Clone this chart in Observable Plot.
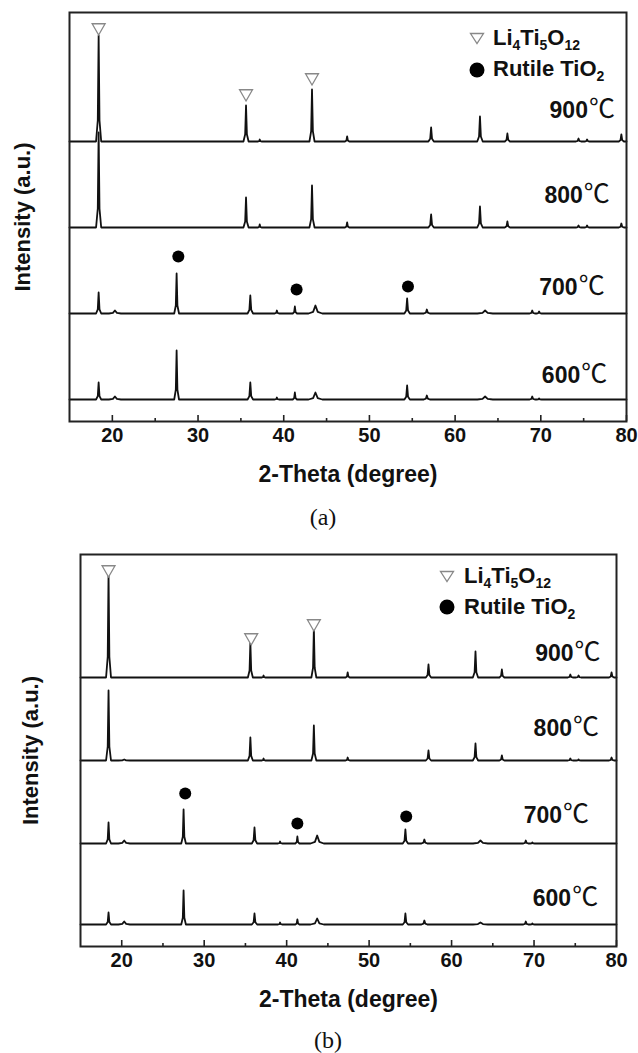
<!DOCTYPE html>
<html><head><meta charset="utf-8">
<script src="https://cdn.jsdelivr.net/npm/d3@7"></script>
<script src="https://cdn.jsdelivr.net/npm/@observablehq/plot@0.6"></script>
<style>
body{margin:0;background:#fff;width:638px;height:1053px;position:relative;overflow:hidden;font-family:"Liberation Sans",Arial,sans-serif;}
.panel{position:absolute;left:0;}
.leg{position:absolute;font-weight:bold;font-size:22px;line-height:22px;color:#111;white-space:nowrap;}
.leg sub{font-size:14px;vertical-align:-5px;line-height:0;}
.sym{position:absolute;}
.cap{position:absolute;width:60px;text-align:center;font-family:"Liberation Serif","Times New Roman",serif;font-size:24px;line-height:24px;color:#111;}
</style></head><body>
<div id="pa" class="panel" style="top:0"></div>
<div id="pb" class="panel" style="top:540px"></div>

<svg class="sym" style="left:469px;top:32px" width="16" height="14"><path d="M1.5,1.5 L14.5,1.5 L8,11.5 Z" fill="#fff" stroke="#888" stroke-width="1.3"/></svg>
<div class="leg" style="left:493px;top:27px">Li<sub>4</sub>Ti<sub>5</sub>O<sub>12</sub></div>
<svg class="sym" style="left:469px;top:62px" width="16" height="16"><circle cx="8" cy="8" r="7.5" fill="#000"/></svg>
<div class="leg" style="left:493px;top:58px">Rutile TiO<sub>2</sub></div>

<svg class="sym" style="left:439px;top:570px" width="16" height="14"><path d="M1.5,1.5 L14.5,1.5 L8,11.5 Z" fill="#fff" stroke="#888" stroke-width="1.3"/></svg>
<div class="leg" style="left:464px;top:565px">Li<sub>4</sub>Ti<sub>5</sub>O<sub>12</sub></div>
<svg class="sym" style="left:439px;top:599px" width="16" height="16"><circle cx="8" cy="8" r="7.5" fill="#000"/></svg>
<div class="leg" style="left:464px;top:596px">Rutile TiO<sub>2</sub></div>

<div class="cap" style="left:293px;top:505px">(a)</div>
<div class="cap" style="left:298px;top:1028px">(b)</div>

<script>
// ---- shared data ----
const xDomain = [15, 80];
const majorTicks = [20, 30, 40, 50, 60, 70, 80];
const minorTicks = [25, 35, 45, 55, 65, 75];
const temps = ["600", "700", "800", "900"];
const peakAngles     = [18.4, 20.3, 27.5, 35.6, 36.1, 37.2, 39.2, 41.3, 43.3, 43.7, 47.4, 54.4, 56.7, 57.2, 62.9, 63.5, 66.1, 69.0, 69.8, 74.4, 75.4, 79.4];
const peakHalfWidths = [0.3, 0.7, 0.28, 0.3, 0.32, 0.2, 0.25, 0.25, 0.3, 0.8, 0.25, 0.32, 0.35, 0.32, 0.32, 0.9, 0.3, 0.3, 0.3, 0.3, 0.3, 0.3];

// ---- panel (a) ----
const offsetsA = [22, 108, 194, 280];
const heightsA600 = [17, 3, 49, 0, 17, 0, 2, 7, 0, 7, 0, 14, 4, 0, 0, 3, 0, 3, 1, 0, 0, 0];
const heightsA700 = [21, 3, 40, 0, 18, 0, 3, 7, 0, 8, 0, 15, 4, 0, 0, 3, 0, 3, 2, 0, 0, 0];
const heightsA800 = [95, 0, 0, 30, 0, 3, 0, 0, 42, 0, 5, 0, 0, 13, 21, 0, 6, 0, 0, 2, 2, 4];
const heightsA900 = [106, 0, 0, 36, 0, 2, 0, 0, 52, 0, 5, 0, 0, 14, 25, 0, 8, 0, 0, 3, 2, 7];
const triAnglesA = [18.4, 35.6, 43.3];
const triLevelsA = [394, 328, 344];
const dotAnglesA = [27.7, 41.5, 54.5];
const dotLevelsA = [165, 132, 135];
const labelAnglesA = [74.6, 74.3, 74.9, 75.5];
const labelLevelsA = [46, 134, 226, 311];

// ---- panel (b) ----
const offsetsB = [22, 103, 186, 269];
const heightsB600 = [12, 3, 34, 0, 11, 0, 2, 5, 0, 6, 0, 11, 4, 0, 0, 2, 0, 3, 1, 0, 0, 0];
const heightsB700 = [21, 3, 34, 0, 16, 0, 2, 7, 0, 8, 0, 14, 4, 0, 0, 3, 0, 3, 1, 0, 0, 0];
const heightsB800 = [70, 1, 0, 23, 0, 2, 0, 0, 35, 0, 3, 0, 0, 10, 17, 0, 5, 0, 0, 2, 1, 3];
const heightsB900 = [104, 0, 0, 35, 0, 2, 0, 0, 49, 0, 5, 0, 0, 13, 26, 0, 8, 0, 0, 3, 2, 5];
const triAnglesB = [18.4, 35.7, 43.3];
const triLevelsB = [377, 309, 323];
const dotAnglesB = [27.7, 41.3, 54.5];
const dotLevelsB = [153, 123, 130];
const labelAnglesB = [74.5, 73.4, 74.6, 74.8];
const labelLevelsB = [48, 131, 218, 293];

const FONT = "Liberation Sans, Arial, sans-serif";

function tracePoints(temp, offset, heights) {
  const pts = [{temp, x: xDomain[0], y: offset}];
  peakAngles.forEach((a, i) => {
    const h = heights[i];
    if (!h) return;
    const w = peakHalfWidths[i];
    pts.push({temp, x: a - w, y: offset},
             {temp, x: a - w / 3, y: offset + h * 0.2},
             {temp, x: a, y: offset + h},
             {temp, x: a + w / 3, y: offset + h * 0.2},
             {temp, x: a + w, y: offset});
  });
  pts.push({temp, x: xDomain[1], y: offset});
  return pts;
}

function panel({offsets, heights, triAngles, triLevels, dotAngles, dotLevels, labelAngles, labelLevels, yMax, marginLeft, marginRight, marginTop, marginBottom, ylabelDx}) {
  const lines = temps.flatMap((t, i) => tracePoints(t, offsets[i], heights[i]));
  const tris = triAngles.map((x, i) => ({x, y: triLevels[i]}));
  const dots = dotAngles.map((x, i) => ({x, y: dotLevels[i]}));
  const labels = temps.map((t, i) => ({t, x: labelAngles[i], y: labelLevels[i]}));
  return Plot.plot({
    width: 638,
    height: marginTop + yMax + marginBottom,
    marginLeft, marginRight, marginTop, marginBottom,
    x: {domain: xDomain},
    y: {domain: [0, yMax], axis: null},
    style: {fontFamily: FONT, background: "transparent", color: "#111"},
    marks: [
      Plot.line(lines, {x: "x", y: "y", z: "temp", stroke: "#111", strokeWidth: 1.8, strokeLinejoin: "round"}),
      Plot.dot(tris, {x: "x", y: "y", symbol: "triangle", rotate: 180, r: 4.8, stroke: "#888", fill: "#fff", strokeWidth: 1.3}),
      Plot.dot(dots, {x: "x", y: "y", r: 6, fill: "#000"}),
      Plot.text(labels, {x: "x", y: "y", text: "t", textAnchor: "end", fontWeight: "bold", fontSize: 23, fill: "#111"}),
      Plot.text(labels, {x: "x", y: "y", text: () => "℃", textAnchor: "start", dx: 1, dy: -1, fontFamily: "Noto Sans CJK SC", fontSize: 26, fill: "#111"}),
      Plot.tickX(majorTicks, {x: d => d, insetTop: yMax - 6, stroke: "#222", strokeWidth: 1.6}),
      Plot.tickX(minorTicks, {x: d => d, insetTop: yMax - 3, stroke: "#222", strokeWidth: 1.6}),
      Plot.axisX(majorTicks, {tickSize: 0, tickPadding: 6, fontSize: 20, fontWeight: "bold", label: null}),
      Plot.text(["2-Theta (degree)"], {frameAnchor: "bottom", dy: 53, lineAnchor: "middle", fontSize: 23, fontWeight: "bold", fill: "#111"}),
      Plot.text(["Intensity (a.u.)"], {frameAnchor: "left", textAnchor: "middle", lineAnchor: "middle", rotate: -90, dx: ylabelDx, fontSize: 22, fontWeight: "bold", fill: "#111"}),
      Plot.frame({stroke: "#222", strokeWidth: 2})
    ]
  });
}

document.getElementById("pa").append(panel({
  offsets: offsetsA, heights: [heightsA600, heightsA700, heightsA800, heightsA900],
  triAngles: triAnglesA, triLevels: triLevelsA, dotAngles: dotAnglesA, dotLevels: dotLevelsA,
  labelAngles: labelAnglesA, labelLevels: labelLevelsA,
  yMax: 409, marginLeft: 69, marginRight: 12, marginTop: 12, marginBottom: 79, ylabelDx: -47
}));
document.getElementById("pb").append(panel({
  offsets: offsetsB, heights: [heightsB600, heightsB700, heightsB800, heightsB900],
  triAngles: triAnglesB, triLevels: triLevelsB, dotAngles: dotAnglesB, dotLevels: dotLevelsB,
  labelAngles: labelAnglesB, labelLevels: labelLevelsB,
  yMax: 392, marginLeft: 80, marginRight: 22, marginTop: 14, marginBottom: 74, ylabelDx: -50
}));
</script>
</body></html>
